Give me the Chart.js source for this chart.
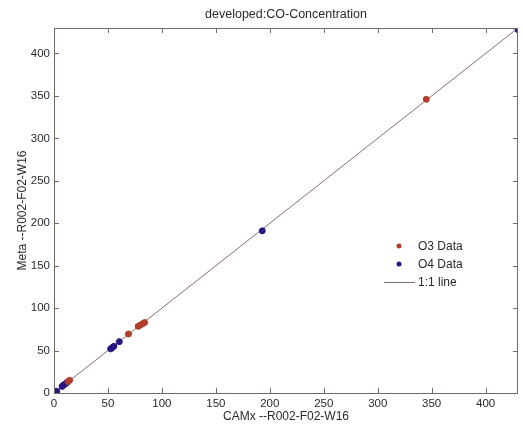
<!DOCTYPE html>
<html>
<head>
<meta charset="utf-8">
<script src="https://cdn.jsdelivr.net/npm/chart.js@4/dist/chart.umd.min.js"></script>
<style>
  html, body { margin: 0; padding: 0; background: #fff; }
  #wrap { width: 523px; height: 432px; }
</style>
</head>
<body>
<div id="wrap"><canvas id="myChart" width="523" height="432"></canvas></div>
<script>
// valores
const o3X = [13, 14.5, 69, 78, 80, 82, 84, 345]
const o3Y = [13.5, 15, 69.5, 78.5, 80, 81.5, 83, 346]

const o4X = [0.5, 1.5, 2.5, 7.5, 9, 10.5, 12, 52.5, 54, 55.5, 60.5, 193, 430]
const o4Y = [0.8, 1.2, 2, 7.8, 9.5, 10.8, 12.3, 52, 53.5, 55, 60.5, 191, 428]

const linhaX = [0, 430]
const linhaY = [0, 430]

const titulo = 'developed:CO-Concentration'
const tituloX = 'CAMx --R002-F02-W16'
const tituloY = 'Meta --R002-F02-W16'

function pares(xs, ys){
  return xs.map((x, i) => ({x: x, y: ys[i]}))
}

const fonte = '"Liberation Sans", Arial, sans-serif'
const corTexto = '#2a2a2a'
const corEixo = 'rgb(120, 104, 100)'

// caixa, ticks para dentro, titulo e legenda estilo matlab
const estiloMatlab = {
  id: 'estiloMatlab',
  afterDraw(chart){
    const ctx = chart.ctx
    const a = chart.chartArea
    const sx = chart.scales.x
    const sy = chart.scales.y
    ctx.save()
    ctx.strokeStyle = corEixo
    ctx.lineWidth = 1
    ctx.strokeRect(a.left + 0.5, a.top + 0.5, a.right - a.left - 1, a.bottom - a.top)
    ctx.beginPath()
    sx.ticks.forEach(t => {
      const px = Math.round(sx.getPixelForValue(t.value)) + 0.5
      ctx.moveTo(px, a.bottom); ctx.lineTo(px, a.bottom - 5)
      ctx.moveTo(px, a.top); ctx.lineTo(px, a.top + 5)
    })
    sy.ticks.forEach(t => {
      const py = Math.round(sy.getPixelForValue(t.value)) + 0.5
      ctx.moveTo(a.left, py); ctx.lineTo(a.left + 5, py)
      ctx.moveTo(a.right, py); ctx.lineTo(a.right - 5, py)
    })
    ctx.stroke()

    // titulo
    ctx.fillStyle = corTexto
    ctx.font = '12.5px ' + fonte
    ctx.textAlign = 'center'
    ctx.textBaseline = 'middle'
    ctx.fillText(titulo, (a.left + a.right) / 2, 15)

    // legenda
    const lx = a.right - 119
    const ly = a.top + 218
    ctx.font = '12px ' + fonte
    ctx.textAlign = 'left'
    chart.data.datasets.forEach((ds, i) => {
      const y = ly + i * 18
      if (ds.type === 'line') {
        ctx.strokeStyle = ds.borderColor
        ctx.beginPath()
        ctx.moveTo(lx - 15, y + 0.5); ctx.lineTo(lx + 16, y + 0.5)
        ctx.stroke()
      } else {
        ctx.fillStyle = ds.backgroundColor
        ctx.beginPath()
        ctx.arc(lx, y, 2.5, 0, Math.PI * 2)
        ctx.fill()
      }
      ctx.fillStyle = corTexto
      ctx.fillText(ds.label, lx + 19, y + 1)
    })
    ctx.restore()
  }
}

const ctx = document.getElementById('myChart')

const data = {
  datasets: [{
    type: 'scatter',
    label: 'O3 Data',
    data: pares(o3X, o3Y),
    backgroundColor: 'rgb(176, 62, 44)',
    borderColor: 'rgb(176, 62, 44)',
    pointRadius: 3
  }, {
    type: 'scatter',
    label: 'O4 Data',
    data: pares(o4X, o4Y),
    backgroundColor: 'rgb(38, 22, 128)',
    borderColor: 'rgb(38, 22, 128)',
    pointRadius: 3
  }, {
    type: 'line',
    label: '1:1 line',
    data: pares(linhaX, linhaY),
    borderColor: 'rgb(140, 110, 105)',
    borderWidth: 1,
    pointRadius: 0,
    fill: false
  }]
}

function so50(scale){
  scale.ticks = scale.ticks.filter(t => t.value % 50 === 0)
}

const config = {
  data: data,
  options: {
    responsive: false,
    animation: false,
    layout: { padding: { top: 28, right: 2, left: 0, bottom: 0 } },
    plugins: {
      legend: { display: false },
      title: { display: false },
      tooltip: { enabled: false }
    },
    scales: {
      x: {
        type: 'linear',
        min: 0,
        max: 430,
        afterBuildTicks: so50,
        afterFit: s => { s.height = 39 },
        grid: { display: false, drawTicks: false, tickLength: 0 },
        border: { display: false },
        ticks: { stepSize: 50, padding: 4, color: corTexto, font: { family: fonte, size: 11.5 }, maxRotation: 0 },
        title: { display: true, text: tituloX, color: corTexto, font: { family: fonte, size: 12 }, padding: { bottom: 8 } }
      },
      y: {
        type: 'linear',
        min: 0,
        max: 430,
        afterBuildTicks: so50,
        afterFit: s => { s.width = 54 },
        grid: { display: false, drawTicks: false, tickLength: 0 },
        border: { display: false },
        ticks: { stepSize: 50, padding: 4, color: corTexto, font: { family: fonte, size: 11.5 } },
        title: { display: true, text: tituloY, color: corTexto, font: { family: fonte, size: 12 }, padding: { top: 15 } }
      }
    }
  },
  plugins: [estiloMatlab]
}

const myChart = new Chart(ctx, config)
</script>
</body>
</html>
